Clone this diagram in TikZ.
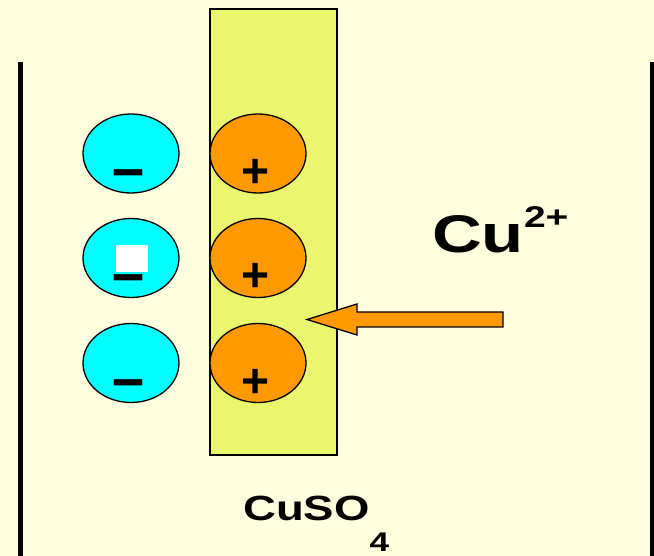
\documentclass[tikz,border=0pt]{standalone}
\usepackage{fontspec}
\setmainfont{Liberation Sans}
\usetikzlibrary{shapes.geometric}
\definecolor{paper}{RGB}{255,255,224}
\definecolor{rodfill}{RGB}{234,246,110}
\definecolor{ionorange}{RGB}{255,153,0}
\definecolor{ioncyan}{RGB}{0,255,255}

\begin{document}
\begin{tikzpicture}[x=1pt,y=-1pt,
  ion/.style={ellipse,draw,line width=1.3pt,minimum width=96pt,minimum height=79pt,inner sep=0pt},
  anion/.style={ion,fill=ioncyan},
  cation/.style={ion,fill=ionorange},
  sign/.style={font=\fontsize{48}{48}\selectfont\bfseries,inner sep=0pt,anchor=base},
  wall/.style={line width=5pt},
  rod/.style={draw,line width=1.5pt,fill=rodfill,minimum width=127pt,minimum height=446pt,inner sep=0pt},
  formula/.style={inner sep=0pt,anchor=base west},
  bigarrow/.style={fill=ionorange,draw=black,line width=1.3pt,line join=miter}
]
\fill[paper] (0,0) rectangle (654,556);
\useasboundingbox (0,0) rectangle (654,556);
% beaker walls
\draw[wall] (20.5,62) -- (20.5,556);
\draw[wall] (652.5,62) -- (652.5,556);
% copper rod
\node[rod] (rod) at (273.5,232) {};
% ions
\foreach \i/\y in {1/153.5,2/258,3/363}{
  \node[anion] (a\i) at (131,\y) {};
  \node[cation] (c\i) at (258,\y) {};
  \node[sign] (m\i) at (129,\y+36.5) {\scalebox{1.2}[1.3]{–}};
  \node[sign] (p\i) at (256,\y+34) {+};
}
\node[fill=white,minimum width=32pt,minimum height=27pt,inner sep=0pt] (blank) at (132,258.5) {};
% arrow
\coordinate (tip) at (307,319.5);
\filldraw[bigarrow] (tip) -- ++(50,-15.5) -- ++(0,8) -- ++(146,0) -- ++(0,15)
  -- ++(-146,0) -- ++(0,8) -- cycle;
% labels
\node[formula,font=\fontsize{53}{53}\selectfont\bfseries] (cu) at (432,253)
  {\scalebox{1.3}[1]{Cu\raisebox{25pt}{\fontsize{30}{30}\selectfont 2+}}};
\node[formula,font=\fontsize{35}{35}\selectfont\bfseries] (cuso) at (243,520)
  {\scalebox{1.3}[1]{CuSO\raisebox{-31pt}{\fontsize{27}{27}\selectfont 4}}};
\end{tikzpicture}
\end{document}
